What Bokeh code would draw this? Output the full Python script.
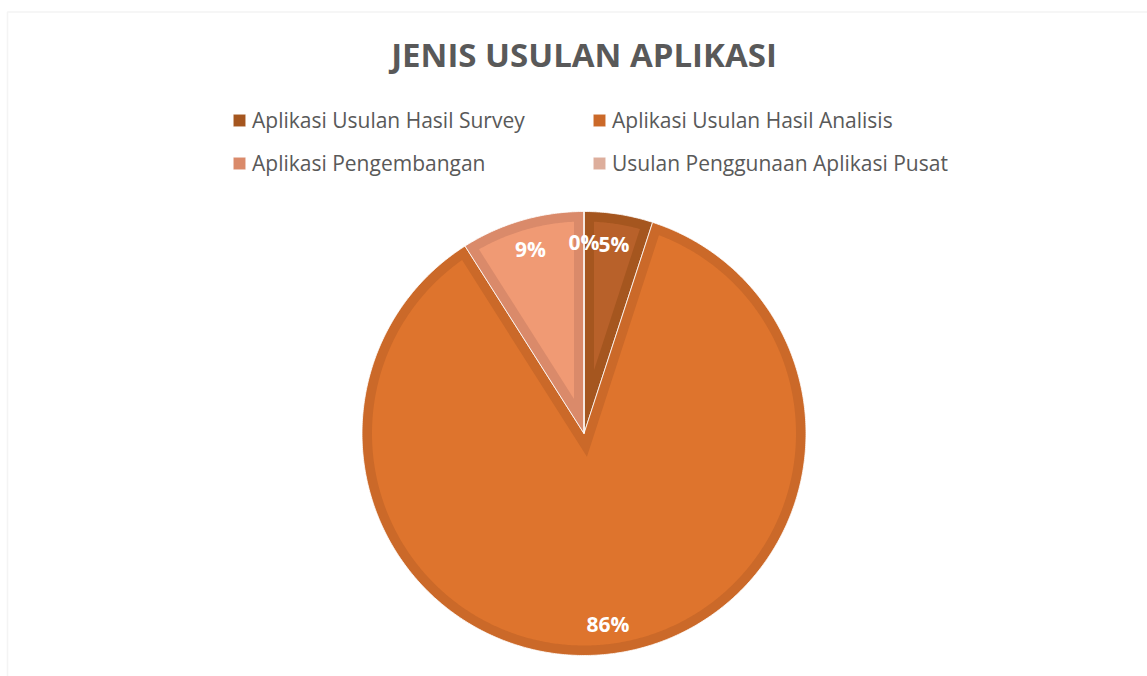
import numpy as np
from bokeh.plotting import figure
from bokeh.models import (Label, Legend, LegendItem, ColumnDataSource, Range1d,
                          BoxAnnotation)
from bokeh.embed import file_html
from bokeh.resources import INLINE
from bokeh.core.properties import value

# ---- data ----
title_text = "JENIS USULAN APLIKASI"
categories = ["Aplikasi Usulan Hasil Survey", "Aplikasi Usulan Hasil Analisis",
              "Aplikasi Pengembangan", "Usulan Penggunaan Aplikasi Pusat"]
values = [5, 86, 9, 0]
pct_labels = ["5%", "86%", "9%", "0%"]
fill_colors = ["#B8612A", "#DE742D", "#F09A74", "#F3C2AD"]
border_colors = ["#A5561F", "#CB6929", "#DA8A6A", "#DDAE9C"]

# ---- layout constants ----
W, H = 1147, 676
CX, CY = 583.5, H - 433.0
R = 222.0
D = 10.0
LABEL_R = 192.0
FONT = "Open Sans"

p = figure(width=W, height=H, x_range=Range1d(0, W), y_range=Range1d(0, H),
           output_backend="svg", toolbar_location=None, min_border=0,
           x_axis_location=None, y_axis_location=None)
p.grid.visible = False
p.outline_line_color = None
p.background_fill_color = "white"
p.border_fill_color = "white"

# chart area border
p.add_layout(BoxAnnotation(left=7.0, right=W + 20, top=H - 11.5, bottom=-20,
                           fill_alpha=0, line_color="#D9D9D9", line_width=1.5))

# ---- pie geometry from values ----
vals = np.array(values, dtype=float)
frac = vals / vals.sum()
ends = np.cumsum(frac) * 2 * np.pi
starts = ends - frac * 2 * np.pi

outer_xs, outer_ys, inner_xs, inner_ys, inner_cols = [], [], [], [], []
delta = np.arcsin(D / (R - D))
for a0, a1, fc in zip(starts, ends, fill_colors):
    t = np.linspace(a0, a1, max(2, int((a1 - a0) * 120)))
    outer_xs.append(np.concatenate([[CX], CX + R * np.sin(t)]).tolist())
    outer_ys.append(np.concatenate([[CY], CY + R * np.cos(t)]).tolist())
    s = a1 - a0
    if s > 2 * delta + 0.01:
        b = a0 + s / 2
        dist = D / np.sin(s / 2)
        t2 = np.linspace(a0 + delta, a1 - delta, max(2, int(s * 120)))
        inner_xs.append(np.concatenate([[CX + dist * np.sin(b)], CX + (R - D) * np.sin(t2)]).tolist())
        inner_ys.append(np.concatenate([[CY + dist * np.cos(b)], CY + (R - D) * np.cos(t2)]).tolist())
        inner_cols.append(fc)

outer_src = ColumnDataSource(dict(xs=outer_xs, ys=outer_ys, color=border_colors,
                                  name=categories))
outer_r = p.patches("xs", "ys", source=outer_src, fill_color="color",
                    line_color="white", line_width=1, line_alpha=0.8)
p.patches(inner_xs, inner_ys, fill_color=inner_cols, line_color=None)

# ---- data labels ----
mids = (starts + ends) / 2
lab_src = ColumnDataSource(dict(x=(CX + LABEL_R * np.sin(mids)).tolist(),
                                y=(CY + LABEL_R * np.cos(mids)).tolist(),
                                text=pct_labels))
p.text("x", "y", text="text", source=lab_src, text_font=value(FONT),
       text_font_style="bold", text_font_size="21px", text_color="white",
       text_align="center", text_baseline="middle")

# ---- title ----
p.add_layout(Label(x=CX, y=H - 54, text=title_text, text_font=FONT,
                   text_font_style="bold", text_font_size="33px",
                   text_color="#595959", text_align="center",
                   text_baseline="middle"))

# ---- legend (two columns) ----
def make_legend(idxs, x):
    items = [LegendItem(label=categories[i], renderers=[outer_r], index=i) for i in idxs]
    leg = Legend(items=items, location=(x, H - 177), orientation="vertical",
                 glyph_width=16, glyph_height=16, label_standoff=5,
                 label_text_font=FONT, label_text_font_size="21px",
                 label_text_color="#595959", spacing=15, padding=0, margin=0,
                 border_line_color=None, background_fill_alpha=0)
    return leg

p.add_layout(make_legend([0, 2], 231))
p.add_layout(make_legend([1, 3], 591))

open("out.html", "w").write(file_html(p, INLINE))
